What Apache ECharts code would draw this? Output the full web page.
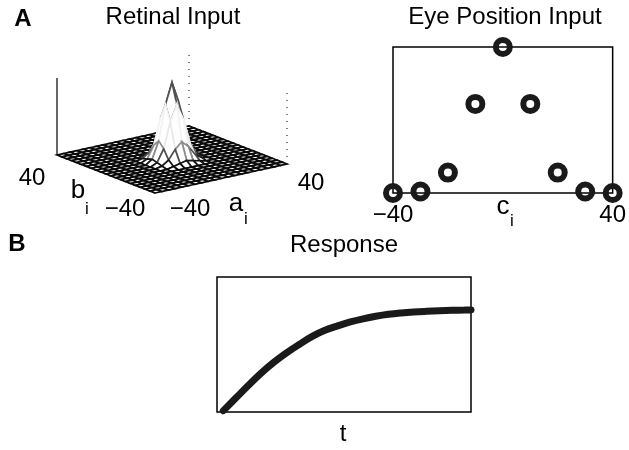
<!DOCTYPE html>
<html>
<head>
<meta charset="utf-8">
<script src="https://cdn.jsdelivr.net/npm/echarts@6/dist/echarts.min.js"></script>
<style>
html, body { margin: 0; padding: 0; background: #fff; }
#main { width: 629px; height: 450px; }
</style>
</head>
<body>
<div id="main"></div>
<script>
// Retinal input: mesh ticks for a_i and b_i (step 4)
var meshTicks = [-40, -36, -32, -28, -24, -20, -16, -12, -8, -4, 0, 4, 8, 12, 16, 20, 24, 28, 32, 36, 40];
// height of the bump around a = b = 0 (a, b from -12 to 12), the rest of the mesh is flat at 0
var peakBlock = [
    [0.00, 0.02, 0.04, 0.06, 0.04, 0.02, 0.00],
    [0.02, 0.08, 0.20, 0.28, 0.20, 0.08, 0.02],
    [0.04, 0.20, 0.53, 0.73, 0.53, 0.20, 0.04],
    [0.06, 0.28, 0.73, 1.00, 0.73, 0.28, 0.06],
    [0.04, 0.20, 0.53, 0.73, 0.53, 0.20, 0.04],
    [0.02, 0.08, 0.20, 0.28, 0.20, 0.08, 0.02],
    [0.00, 0.02, 0.04, 0.06, 0.04, 0.02, 0.00]
];

// Eye position input
var eyeX = [-40, -30, -20, -10, 0, 10, 20, 30, 40];
var eyeY = [0, 0.01, 0.14, 0.61, 1, 0.61, 0.14, 0.01, 0];

// Response
var respT = [2.5, 7.5, 12.5, 17.5, 22.5, 27.5, 32.5, 37.5, 42.5, 47.5, 52.5,
    57.5, 62.5, 67.5, 72.5, 77.5, 82.5, 87.5, 92.5, 97.5, 100];
var respY = [0.01, 0.105, 0.2, 0.29, 0.37, 0.44, 0.502, 0.56, 0.605, 0.638, 0.667,
    0.69, 0.709, 0.724, 0.734, 0.741, 0.746, 0.75, 0.753, 0.755, 0.756];

var FONT = 'Liberation Sans, Arial, Helvetica, sans-serif';
var INK = '#1a1a1a';

// view of the 3d box (front corner, a edge, b edge, height of z = 1)
var floorFront = [155, 193];
var floorA = [132, -29];
var floorB = [-98, -38];
var zScale = 77;

function proj(a, b, z) {
    var fa = (a + 40) / 80, fb = (b + 40) / 80;
    return [
        floorFront[0] + fa * floorA[0] + fb * floorB[0],
        floorFront[1] + fa * floorA[1] + fb * floorB[1] - z * zScale
    ];
}

function zAt(i, j) {
    var c = (meshTicks.length - 1) / 2, h = (peakBlock.length - 1) / 2;
    if (Math.abs(i - c) <= h && Math.abs(j - c) <= h) {
        return peakBlock[j - c + h][i - c + h];
    }
    return 0;
}

// gray levels of the mesh edges by height
var meshStops = [[0, '#0a0a0a'], [0.04, '#1e1e1e'], [0.12, '#777777'], [0.25, '#e8e8e8'],
    [0.45, '#f4f4f4'], [0.6, '#a0a0a0'], [0.75, '#505050'], [1, '#383838']];

function meshColor(z) {
    for (var k = 1; k < meshStops.length; k++) {
        if (z <= meshStops[k][0]) {
            var t = (z - meshStops[k - 1][0]) / (meshStops[k][0] - meshStops[k - 1][0]);
            var c0 = parseInt(meshStops[k - 1][1].slice(1, 3), 16);
            var c1 = parseInt(meshStops[k][1].slice(1, 3), 16);
            var g = Math.round(c0 + (c1 - c0) * t);
            return 'rgb(' + g + ',' + g + ',' + g + ')';
        }
    }
    return meshStops[meshStops.length - 1][1];
}

// cells, drawn from the back to the front
var cells = [];
for (var i = 0; i < meshTicks.length - 1; i++) {
    for (var j = 0; j < meshTicks.length - 1; j++) {
        var am = (meshTicks[i] + meshTicks[i + 1]) / 2;
        var bm = (meshTicks[j] + meshTicks[j + 1]) / 2;
        cells.push([i, j, -floorA[1] * am - floorB[1] * bm]);
    }
}
cells.sort(function (p, q) { return q[2] - p[2]; });

function renderCell(params, api) {
    var i = api.value(0), j = api.value(1);
    var corners = [[i, j], [i + 1, j], [i + 1, j + 1], [i, j + 1]];
    var pts = [], zs = 0;
    for (var k = 0; k < 4; k++) {
        var z = zAt(corners[k][0], corners[k][1]);
        zs += z;
        pts.push(api.coord(proj(meshTicks[corners[k][0]], meshTicks[corners[k][1]], z)));
    }
    return {
        type: 'polygon',
        shape: { points: pts },
        style: { fill: '#fff', stroke: meshColor(zs / 4), lineWidth: 1.7 }
    };
}

function renderBox(params, api) {
    function vline(a, b, dashed) {
        var p0 = api.coord(proj(a, b, 0)), p1 = api.coord(proj(a, b, 1));
        return {
            type: 'line',
            shape: { x1: p0[0], y1: p0[1], x2: p1[0], y2: p1[1] },
            style: { stroke: '#000', lineWidth: dashed ? 1 : 1.2, lineDash: dashed ? [1, 6] : null }
        };
    }
    return {
        type: 'group',
        children: [vline(-40, 40, false), vline(40, 40, true), vline(40, -40, true)]
    };
}

function minus(v) {
    return (v < 0 ? '\u2212' : '') + Math.abs(v);
}

function txt(text, x, y, size, weight) {
    return {
        type: 'text', x: x, y: y, z: 10,
        style: {
            text: text, fill: '#000', fontSize: size, fontFamily: FONT, fontWeight: weight || 'normal',
            align: 'center', verticalAlign: 'middle', textAlign: 'center', textVerticalAlign: 'middle'
        }
    };
}

var chart = echarts.init(document.getElementById('main'));

var option = {
    backgroundColor: '#fff',
    animation: false,
    grid: [
        { left: 393, top: 47, width: 226, height: 146, show: true, borderColor: '#000', borderWidth: 1.5 },
        { left: 217, top: 277, width: 254, height: 135, show: true, borderColor: '#000', borderWidth: 1.5 },
        { left: 0, top: 0, width: 629, height: 450 }
    ],
    xAxis: [
        {
            gridIndex: 0, type: 'value', min: -40, max: 40, interval: 80,
            axisLine: { show: false }, axisTick: { show: false }, splitLine: { show: false },
            axisLabel: { color: '#000', fontSize: 24, fontFamily: FONT, margin: 10, formatter: minus }
        },
        {
            gridIndex: 1, type: 'value', min: 0, max: 100,
            axisLine: { show: false }, axisTick: { show: false }, splitLine: { show: false },
            axisLabel: { show: false }
        },
        { gridIndex: 2, type: 'value', min: 0, max: 629, show: false }
    ],
    yAxis: [
        {
            gridIndex: 0, type: 'value', min: 0, max: 1,
            axisLine: { show: false }, axisTick: { show: false }, splitLine: { show: false },
            axisLabel: { show: false }
        },
        {
            gridIndex: 1, type: 'value', min: 0, max: 1,
            axisLine: { show: false }, axisTick: { show: false }, splitLine: { show: false },
            axisLabel: { show: false }
        },
        { gridIndex: 2, type: 'value', min: 0, max: 450, inverse: true, show: false }
    ],
    series: [
        {
            name: 'box', type: 'custom', xAxisIndex: 2, yAxisIndex: 2, z: 1,
            renderItem: renderBox, data: [[0, 0]], silent: true
        },
        {
            name: 'Retinal Input', type: 'custom', xAxisIndex: 2, yAxisIndex: 2, z: 2,
            renderItem: renderCell, data: cells, silent: true
        },
        {
            name: 'Eye Position Input', type: 'scatter', xAxisIndex: 0, yAxisIndex: 0,
            symbol: 'circle', symbolSize: 14, clip: false, z: 5,
            itemStyle: { color: 'rgba(0,0,0,0)', borderColor: INK, borderWidth: 6, opacity: 1 },
            data: eyeX.map(function (x, k) { return [x, eyeY[k]]; })
        },
        {
            name: 'Response', type: 'line', xAxisIndex: 1, yAxisIndex: 1,
            smooth: 0.4, symbol: 'none',
            lineStyle: { color: INK, width: 7, cap: 'round' },
            data: respT.map(function (t, k) { return [t, respY[k]]; })
        }
    ],
    graphic: [
        txt('A', 23, 19, 24, 'bold'),
        txt('B', 17, 244, 24, 'bold'),
        txt('Retinal Input', 173, 17, 24),
        txt('Eye Position Input', 505, 17, 24),
        txt('Response', 344, 245, 24),
        // retinal axes labels
        txt('40', 32, 178, 24),
        txt('b', 78, 191, 26),
        txt('i', 87, 209, 17),
        txt('\u221240', 125, 209, 24),
        txt('\u221240', 190, 209, 24),
        txt('a', 236, 204, 26),
        txt('i', 246, 219, 17),
        txt('40', 311, 183, 24),
        // eye position axis name
        txt('c', 503, 207, 26),
        txt('i', 512, 221, 17),
        // response axis name
        txt('t', 343, 434, 24)
    ]
};

chart.setOption(option);
</script>
</body>
</html>
